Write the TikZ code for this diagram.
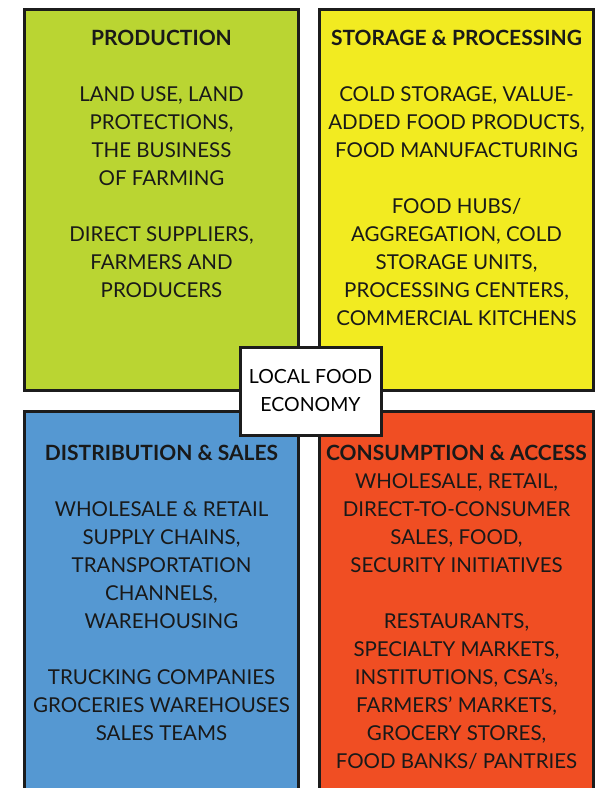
\documentclass[tikz,border=0pt]{standalone}
\usepackage{fontspec}
\setmainfont{Lato}
\usetikzlibrary{positioning}
\definecolor{prodgreen}{RGB}{186,213,50}
\definecolor{storyellow}{RGB}{242,235,33}
\definecolor{distblue}{RGB}{85,152,210}
\definecolor{consred}{RGB}{240,78,35}
\definecolor{edgegray}{RGB}{28,28,28}
\newcommand{\quadhead}[1]{{\fontsize{21}{28}\selectfont\bfseries #1}}
\tikzset{
  quad/.style={rectangle,draw=edgegray,line width=3pt,anchor=north west,inner sep=0pt,
               minimum width=274pt,minimum height=381pt},
  hub/.style={rectangle,draw=edgegray,line width=3pt,fill=white,align=center,
              minimum width=141pt,minimum height=88pt,font=\fontsize{19.5}{28}\selectfont},
  txt/.style={align=center,inner sep=0pt,text=black!90,font=\fontsize{20.5}{28}\selectfont},
}

\begin{document}
\begin{tikzpicture}[x=1pt,y=-1pt]
  \useasboundingbox (0,0) rectangle (598,788);
  % the four quarters
  \node[quad,fill=prodgreen] (prod) at (23,8) {};
  \node[quad,fill=storyellow] (stor) at (318,8) {};
  \node[quad,fill=distblue,minimum height=400pt] (dist) at (23,410) {};
  \node[quad,fill=consred,minimum height=400pt] (cons) at (318,410) {};
  % texts
  \node[txt,below=22pt of prod.north] (prodtxt)
    {\quadhead{PRODUCTION}\\[28pt]
     LAND USE, LAND\\ PROTECTIONS,\\ THE BUSINESS\\ OF FARMING\\[28pt]
     DIRECT SUPPLIERS,\\ FARMERS AND\\ PRODUCERS};
  \node[txt,below=22pt of stor.north] (stortxt)
    {\quadhead{STORAGE \& PROCESSING}\\[28pt]
     COLD STORAGE, VALUE-\\ ADDED FOOD PRODUCTS,\\ FOOD MANUFACTURING\\[28pt]
     FOOD HUBS/\\ AGGREGATION, COLD\\ STORAGE UNITS,\\ PROCESSING CENTERS,\\ COMMERCIAL KITCHENS};
  \node[txt,below=35pt of dist.north] (disttxt)
    {\quadhead{DISTRIBUTION \& SALES}\\[28pt]
     WHOLESALE \& RETAIL\\ SUPPLY CHAINS,\\ TRANSPORTATION\\ CHANNELS,\\ WAREHOUSING\\[28pt]
     TRUCKING COMPANIES\\ GROCERIES WAREHOUSES\\ SALES TEAMS};
  \node[txt,below=35pt of cons.north] (constxt)
    {\quadhead{CONSUMPTION \& ACCESS}\\
     WHOLESALE, RETAIL,\\ DIRECT-TO-CONSUMER\\ SALES, FOOD,\\ SECURITY INITIATIVES\\[28pt]
     RESTAURANTS,\\ SPECIALTY MARKETS,\\ INSTITUTIONS, CSA’s,\\ FARMERS’ MARKETS,\\
     GROCERY STORES,\\ FOOD BANKS/ PANTRIES};
  % centre label
  \node[hub] (econ) at (310.5,391) {LOCAL FOOD\\ ECONOMY};
\end{tikzpicture}
\end{document}
